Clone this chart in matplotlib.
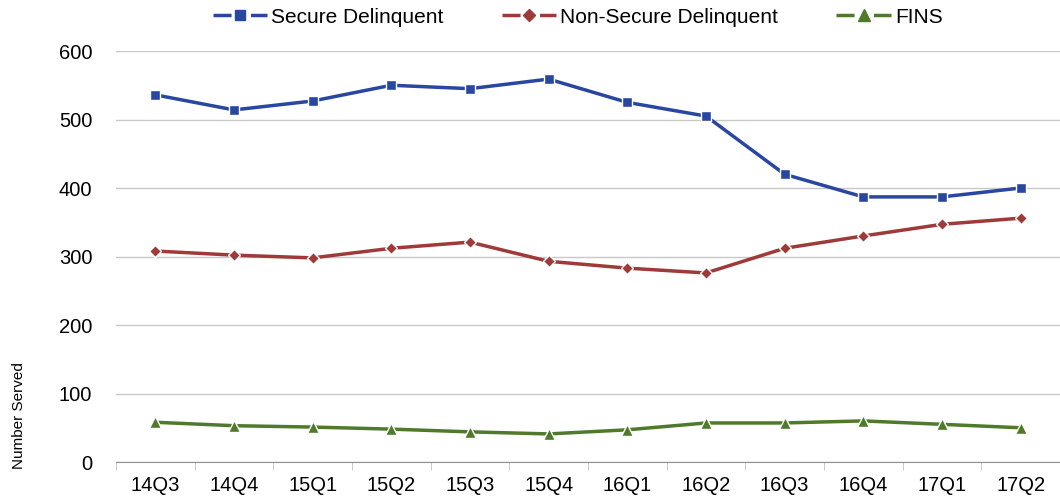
import matplotlib
matplotlib.use("Agg")
from matplotlib import pyplot as plt
from matplotlib.lines import Line2D
import numpy as np

quarters = ["14Q3", "14Q4", "15Q1", "15Q2", "15Q3", "15Q4",
            "16Q1", "16Q2", "16Q3", "16Q4", "17Q1", "17Q2"]
secure = [536, 514, 527, 550, 545, 559, 525, 505, 420, 387, 387, 400]
non_secure = [308, 302, 298, 312, 321, 293, 283, 276, 312, 330, 347, 356]
fins = [58, 53, 51, 48, 44, 41, 47, 57, 57, 60, 55, 50]

names = ["Secure Delinquent", "Non-Secure Delinquent", "FINS"]
colors = ["#2946A0", "#9E3A38", "#4E7A2A"]
markers = ["s", "D", "^"]
sizes = [6.5, 6.5, 8]

plt.rcParams['font.family'] = ['Liberation Sans', 'DejaVu Sans']

fig = plt.figure(figsize=(10.6, 5.03), dpi=100)
ax = fig.add_axes([0.1094, 0.0815, 0.8906, 0.8171])

x = np.arange(len(quarters))
for vals, name, c, m, ms in zip([secure, non_secure, fins], names, colors, markers, sizes):
    ax.plot(x, vals, color=c, lw=2.5, marker=m, ms=ms,
            mec="white", mew=1, label=name, zorder=3)

ax.set_xlim(-0.5, 11.5)
ax.set_ylim(0, 600)
ax.set_yticks(range(0, 601, 100))
ax.yaxis.grid(True, color="#C8C8C8", lw=1)
ax.set_axisbelow(True)
for s in ["left", "right", "top"]:
    ax.spines[s].set_visible(False)
ax.spines["bottom"].set_color("#909090")
ax.tick_params(axis="y", length=0, labelsize=14.5, pad=17)
ax.set_xticks(x)
ax.set_xticklabels(quarters)
ax.tick_params(axis="x", which="major", length=0, labelsize=14.5, pad=10)
ax.set_xticks(np.arange(-0.5, 12, 1), minor=True)
ax.tick_params(axis="x", which="minor", length=6, color="#C0C0C0")

fig.text(0.011, 0.173, "Number Served", rotation=90, fontsize=11, va="center", ha="left")

# legend handles: line broken around the marker
handles = [Line2D([], [], color=c, lw=2.5, ls=(0, (5.2, 5.6)), marker=m,
                  ms=ms, mec=c) for c, m, ms in zip(colors, markers, sizes)]
fig.legend(handles, names, loc="center", bbox_to_anchor=(0.545, 0.966), ncol=3,
           frameon=False, fontsize=15, handlelength=2.6, columnspacing=2.8,
           handletextpad=0.2)

fig.savefig("out.png", dpi=100)
